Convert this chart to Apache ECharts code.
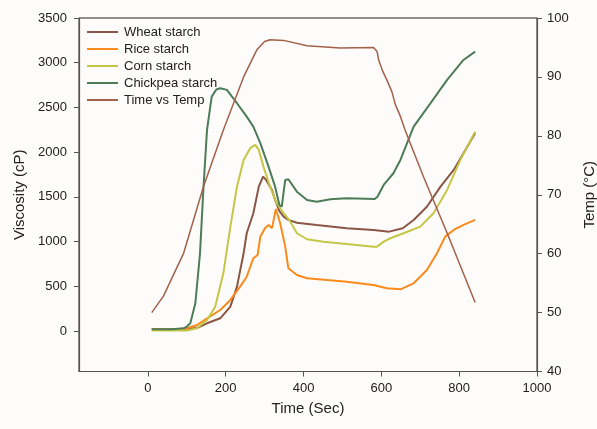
<!DOCTYPE html>
<html><head><meta charset="utf-8">
<script src="https://cdn.jsdelivr.net/npm/echarts@6/dist/echarts.min.js"></script>
<style>html,body{margin:0;padding:0;background:#fdfcfa}#c{width:597px;height:429px}</style>
</head><body><div id="c"></div>
<script>
var xTicks = [0, 200, 400, 600, 800, 1000];
var yLeftTicks = [0, 500, 1000, 1500, 2000, 2500, 3000, 3500];

var wheatT = [10, 100, 130, 152, 186, 212, 229, 246, 254, 271, 285, 296, 304, 319, 327, 338, 349, 361, 383, 434, 511, 580, 620, 655, 683, 717, 752, 786, 811, 841];
var wheatV = [20, 20, 40, 86, 142, 272, 496, 869, 1093, 1317, 1614, 1726, 1689, 1577, 1465, 1340, 1279, 1242, 1211, 1186, 1149, 1130, 1111, 1149, 1242, 1390, 1614, 1801, 1988, 2211];

var riceT = [10, 90, 100, 126, 152, 186, 212, 237, 254, 271, 282, 289, 301, 310, 319, 329, 340, 353, 361, 383, 409, 460, 511, 580, 614, 649, 683, 717, 743, 764, 786, 811, 841];
var riceV = [20, 20, 30, 67, 142, 235, 347, 496, 607, 813, 850, 1055, 1149, 1186, 1150, 1365, 1205, 943, 701, 626, 589, 570, 551, 515, 477, 466, 533, 682, 869, 1055, 1130, 1186, 1242];

var cornT = [10, 100, 126, 152, 173, 194, 212, 229, 246, 263, 276, 285, 297, 314, 331, 349, 366, 383, 409, 451, 511, 580, 589, 606, 623, 657, 700, 734, 769, 803, 841];
var cornV = [5, 5, 30, 123, 272, 645, 1167, 1614, 1913, 2044, 2081, 2025, 1838, 1614, 1428, 1317, 1223, 1093, 1026, 999, 973, 943, 943, 999, 1037, 1093, 1167, 1317, 1577, 1913, 2229];

var chickT = [10, 60, 92, 100, 109, 122, 134, 143, 152, 164, 176, 186, 203, 229, 254, 271, 289, 310, 327, 338, 344, 353, 361, 383, 409, 434, 469, 511, 560, 583, 590, 606, 631, 649, 683, 726, 769, 811, 841];
var chickV = [20, 20, 30, 50, 86, 310, 869, 1614, 2248, 2621, 2700, 2715, 2696, 2547, 2397, 2285, 2100, 1838, 1614, 1409, 1390, 1689, 1697, 1558, 1465, 1446, 1473, 1484, 1480, 1476, 1502, 1633, 1764, 1913, 2285, 2546, 2808, 3031, 3124];

var tempT = [10, 14, 40, 92, 143, 194, 246, 280, 300, 314, 349, 409, 494, 580, 589, 593, 602, 614, 627, 636, 649, 661, 674, 708, 769, 841];
var tempV = [50, 50, 52.8, 60.1, 71.4, 81, 90, 94.6, 96, 96.3, 96.2, 95.3, 94.9, 95.0, 94.3, 92.9, 91.2, 89.5, 87.5, 85.3, 83.3, 81.0, 78.8, 73.1, 63.5, 51.7];

function pairs(t, v) { return t.map(function (x, i) { return [x, v[i]]; }); }
function plain(v) { return String(v); }

var FONT = 'Liberation Sans, Arial, sans-serif';
var chart = echarts.init(document.getElementById('c'), null, {renderer: 'canvas'});
function lineSeries(name, t, v, color, w, yi) {
  return {
    name: name, type: 'line', data: pairs(t, v), yAxisIndex: yi || 0,
    symbol: 'none', smooth: false, animation: false,
    lineStyle: {color: color, width: w}, itemStyle: {color: color}
  };
}
chart.setOption({
  backgroundColor: '#fdfcfa',
  animation: false,
  textStyle: {fontFamily: FONT},
  grid: {left: 79, right: 60, top: 18, bottom: 57.5, outerBoundsMode: 'none', containLabel: false,
         show: true, borderColor: '#222', borderWidth: 1, backgroundColor: 'transparent'},
  legend: {
    orient: 'vertical', left: 86, top: 25, padding: 0, itemGap: 3,
    itemWidth: 31, itemHeight: 14,
    itemStyle: {opacity: 0},
    textStyle: {fontFamily: FONT, fontSize: 13, lineHeight: 14, color: '#222', padding: [0, 0, 0, 1]},
    data: ['Wheat starch', 'Rice starch', 'Corn starch', 'Chickpea starch', 'Time vs Temp']
  },
  xAxis: {
    type: 'value', min: -177, max: 1000,
    name: 'Time (Sec)', nameLocation: 'middle', nameGap: 30,
    nameTextStyle: {fontFamily: FONT, fontSize: 15, color: '#222'},
    axisLine: {show: true, onZero: false, lineStyle: {color: '#555', width: 1.2}},
    axisTick: {show: true, length: 5, customValues: xTicks, lineStyle: {color: '#555'}},
    axisLabel: {customValues: xTicks, margin: 10, fontSize: 13, color: '#222', fontFamily: FONT, formatter: plain},
    splitLine: {show: false}
  },
  yAxis: [{
    type: 'value', min: -453, max: 3500, position: 'left',
    name: 'Viscosity (cP)', nameLocation: 'middle', nameGap: 50, nameRotate: 90,
    nameTextStyle: {fontFamily: FONT, fontSize: 15, color: '#222'},
    axisLine: {show: true, onZero: false, lineStyle: {color: '#555', width: 1.2}},
    axisTick: {show: true, length: 5, customValues: yLeftTicks, lineStyle: {color: '#555'}},
    axisLabel: {customValues: yLeftTicks, margin: 12, fontSize: 13, color: '#222', fontFamily: FONT, formatter: plain},
    splitLine: {show: false}
  }, {
    type: 'value', min: 40, max: 100, interval: 10, position: 'right',
    name: 'Temp (°C)', nameLocation: 'middle', nameGap: 45, nameRotate: 90,
    nameTextStyle: {fontFamily: FONT, fontSize: 15, color: '#222'},
    axisLine: {show: true, onZero: false, lineStyle: {color: '#555', width: 1.2}},
    axisTick: {show: true, length: 5, lineStyle: {color: '#555'}},
    axisLabel: {margin: 10, fontSize: 13, color: '#222', fontFamily: FONT, formatter: plain},
    splitLine: {show: false}
  }],
  series: [
    lineSeries('Wheat starch', wheatT, wheatV, '#8b5646', 2),
    lineSeries('Rice starch', riceT, riceV, '#fb8a1c', 2),
    lineSeries('Corn starch', cornT, cornV, '#c6c646', 2),
    lineSeries('Chickpea starch', chickT, chickV, '#4d7c58', 2),
    lineSeries('Time vs Temp', tempT, tempV, '#a3604a', 1.5, 1)
  ]
});
</script></body></html>
